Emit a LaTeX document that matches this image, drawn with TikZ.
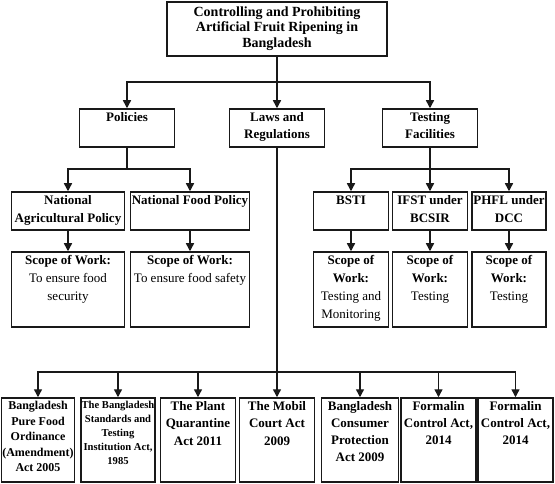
\documentclass[tikz,border=0pt]{standalone}
\usepackage{fontspec}
\setmainfont{Liberation Serif}
\usetikzlibrary{arrows.meta}
\begin{document}
\begin{tikzpicture}[x=1pt,y=-1pt,
  box/.style={draw=black!90, line width=1.5pt, rectangle, inner sep=0pt},
  txt/.style={anchor=north, align=center, inner sep=0pt, font=\bfseries\fontsize{13}{17.5}\selectfont},
  arr/.style={draw=black!90, line width=1.4pt, -{Triangle[length=8pt,width=8pt]}},
  ln/.style={draw=black!90, line width=1.4pt}]
\useasboundingbox (0,0) rectangle (555,484);
% level 0
\node[box, minimum width=220pt, minimum height=54pt] (top) at (277,29) {};
% level 1
\node[box, minimum width=95pt, minimum height=38pt] (pol)  at (127,128) {};
\node[box, minimum width=95pt, minimum height=38pt] (law)  at (277,128) {};
\node[box, minimum width=95pt, minimum height=38pt] (test) at (430,128) {};
% level 2
\node[box, minimum width=113pt, minimum height=38pt] (nap)  at (68,211) {};
\node[box, minimum width=119pt, minimum height=38pt] (nfp)  at (190,211) {};
\node[box, minimum width=75pt, minimum height=38pt]  (bsti) at (351,211) {};
\node[box, minimum width=75pt, minimum height=38pt]  (ifst) at (430,211) {};
\node[box, minimum width=74pt, minimum height=38pt]  (phfl) at (509,211) {};
% level 3 (scope)
\node[box, minimum width=113pt, minimum height=75pt] (s1) at (68,289.5) {};
\node[box, minimum width=119pt, minimum height=75pt] (s2) at (190,289.5) {};
\node[box, minimum width=75pt, minimum height=75pt]  (s3) at (351,289.5) {};
\node[box, minimum width=75pt, minimum height=75pt]  (s4) at (430,289.5) {};
\node[box, minimum width=74pt, minimum height=75pt]  (s5) at (509,289.5) {};
% bottom
\node[box, minimum width=73pt, minimum height=84pt] (b1) at (38,440) {};
\node[box, minimum width=74pt, minimum height=84pt] (b2) at (118,440) {};
\node[box, minimum width=75pt, minimum height=84pt] (b3) at (198,440) {};
\node[box, minimum width=75pt, minimum height=84pt] (b4) at (277,440) {};
\node[box, minimum width=77pt, minimum height=84pt] (b5) at (360,440) {};
\node[box, minimum width=75pt, minimum height=84pt] (b6) at (438.5,440) {};
\node[box, minimum width=75pt, minimum height=84pt] (b7) at (515.5,440) {};

% texts
\node[txt, font=\bfseries\fontsize{14}{15.8}\selectfont] (ttop) at ([yshift=-5pt]top.north) {Controlling and Prohibiting\\Artificial Fruit Ripening in\\Bangladesh};
\node[txt, font=\bfseries\fontsize{13}{17}\selectfont] (tpol) at ([yshift=-4.5pt]pol.north) {Policies};
\node[txt, font=\bfseries\fontsize{13}{17}\selectfont] (tlaw) at ([yshift=-4.5pt]law.north) {Laws and\\Regulations};
\node[txt, font=\bfseries\fontsize{13}{17}\selectfont] (ttest) at ([yshift=-4.5pt]test.north) {Testing\\Facilities};
\node[txt, font=\bfseries\fontsize{13}{18}\selectfont] (tnap) at ([yshift=-4pt]nap.north) {National\\Agricultural Policy};
\node[txt, font=\bfseries\fontsize{13}{18}\selectfont] (tnfp) at ([yshift=-4pt]nfp.north) {National Food Policy};
\node[txt, font=\bfseries\fontsize{13}{18}\selectfont] (tbsti) at ([yshift=-4pt]bsti.north) {BSTI};
\node[txt, font=\bfseries\fontsize{13}{18}\selectfont] (tifst) at ([yshift=-4pt]ifst.north) {IFST under\\BCSIR};
\node[txt, font=\bfseries\fontsize{13}{18}\selectfont] (tphfl) at ([yshift=-4pt]phfl.north) {PHFL under\\DCC};
\node[txt, font=\fontsize{13}{18}\selectfont] (ts1) at ([yshift=-4pt]s1.north) {\textbf{Scope of Work:}\\To ensure food\\security};
\node[txt, font=\fontsize{13}{18}\selectfont] (ts2) at ([yshift=-4pt]s2.north) {\textbf{Scope of Work:}\\To ensure food safety};
\node[txt, font=\fontsize{13}{18}\selectfont] (ts3) at ([yshift=-4pt]s3.north) {\textbf{Scope of}\\\textbf{Work:}\\Testing and\\Monitoring};
\node[txt, font=\fontsize{13}{18}\selectfont] (ts4) at ([yshift=-4pt]s4.north) {\textbf{Scope of}\\\textbf{Work:}\\Testing};
\node[txt, font=\fontsize{13}{18}\selectfont] (ts5) at ([yshift=-4pt]s5.north) {\textbf{Scope of}\\\textbf{Work:}\\Testing};
\node[txt, font=\bfseries\fontsize{12}{15.5}\selectfont] (tb1) at ([yshift=-4pt]b1.north) {Bangladesh\\Pure Food\\Ordinance\\(Amendment)\\Act 2005};
\node[txt, font=\bfseries\fontsize{10.6}{14}\selectfont] (tb2) at ([yshift=-4pt]b2.north) {The Bangladesh\\Standards and\\Testing\\Institution Act,\\1985};
\node[txt, font=\bfseries\fontsize{13}{17.5}\selectfont] (tb3) at ([yshift=-4pt]b3.north) {The Plant\\Quarantine\\Act 2011};
\node[txt, font=\bfseries\fontsize{13}{17.5}\selectfont] (tb4) at ([yshift=-4pt]b4.north) {The Mobil\\Court Act\\2009};
\node[txt, font=\bfseries\fontsize{13}{17}\selectfont] (tb5) at ([yshift=-4pt]b5.north) {Bangladesh\\Consumer\\Protection\\Act 2009};
\node[txt, font=\bfseries\fontsize{13}{17}\selectfont] (tb6) at ([yshift=-4pt]b6.north) {Formalin\\Control Act,\\2014};
\node[txt, font=\bfseries\fontsize{13}{17}\selectfont] (tb7) at ([yshift=-4pt]b7.north) {Formalin\\Control Act,\\2014};

% connectors
\coordinate (bus1) at (0,82);
\coordinate (bus2) at (0,169);
\coordinate (bus3) at (0,372);
\draw[arr] (top.south) -- (law.north);
\draw[arr] (top.south |- bus1) -| (pol.north);
\draw[arr] (top.south |- bus1) -| (test.north);

\draw[ln] (pol.south) -- (pol.south |- bus2);
\draw[arr] (pol.south |- bus2) -| (nap.north);
\draw[arr] (pol.south |- bus2) -| (nfp.north);

\draw[arr] (test.south) -- (ifst.north);
\draw[arr] (test.south |- bus2) -| (bsti.north);
\draw[arr] (test.south |- bus2) -| (phfl.north);

\draw[arr] (nap.south) -- (s1.north);
\draw[arr] (nfp.south) -- (s2.north);
\draw[arr] (bsti.south) -- (s3.north);
\draw[arr] (ifst.south) -- (s4.north);
\draw[arr] (phfl.south) -- (s5.north);

\draw[arr] (law.south) -- (b4.north);
\draw[arr] (law.south |- bus3) -| (b1.north);
\draw[arr] (law.south |- bus3) -| (b2.north);
\draw[arr] (law.south |- bus3) -| (b3.north);
\draw[arr] (law.south |- bus3) -| (b5.north);
\draw[arr] (law.south |- bus3) -| (b6.north);
\draw[arr] (law.south |- bus3) -| (b7.north);
\end{tikzpicture}
\end{document}
